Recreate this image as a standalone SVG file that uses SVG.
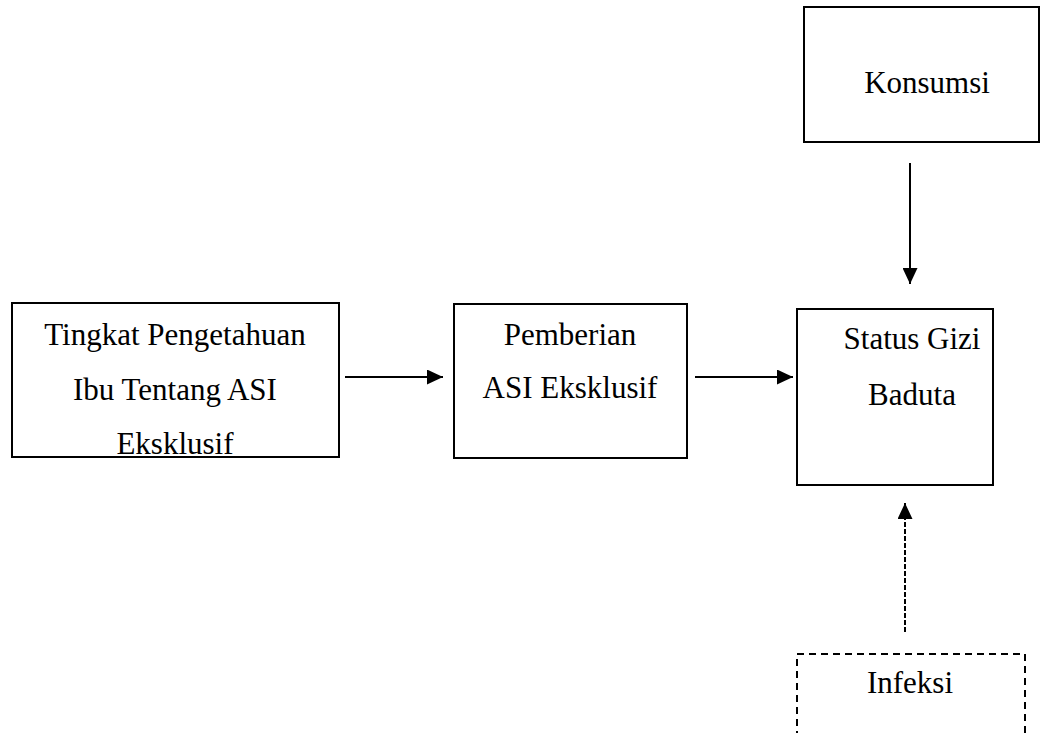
<svg xmlns="http://www.w3.org/2000/svg" width="1041" height="733" viewBox="0 0 1041 733">
  <style>
    .box { fill: #ffffff; stroke: #000000; stroke-width: 2; }
    .dbox { fill: #ffffff; stroke: #000000; stroke-width: 2; stroke-dasharray: 7 5; }
    .lbl { font-family: "Liberation Serif", "Times New Roman", serif; font-size: 31px; fill: #000000; text-anchor: middle; }
    .edge { stroke: #000000; stroke-width: 2; fill: none; }
    .dedge { stroke: #000000; stroke-width: 2; fill: none; stroke-dasharray: 5 2; }
  </style>
  <defs>
    <marker id="arrow" markerUnits="userSpaceOnUse" markerWidth="17" markerHeight="15" refX="16" refY="7.5" orient="auto">
      <path d="M0,0 L16,7.5 L0,15 Z" fill="#000000"/>
    </marker>
  </defs>
  <rect width="1041" height="733" fill="#ffffff"/>

  <g id="node-konsumsi">
    <rect class="box" x="804" y="7" width="235" height="135"/>
    <text class="lbl" x="927" y="93">Konsumsi</text>
  </g>

  <g id="node-pengetahuan">
    <rect class="box" x="12" y="303" width="327" height="154"/>
    <text class="lbl" x="175" y="345">Tingkat Pengetahuan</text>
    <text class="lbl" x="175" y="400">Ibu Tentang ASI</text>
    <text class="lbl" x="175" y="454">Eksklusif</text>
  </g>

  <g id="node-pemberian">
    <rect class="box" x="454" y="304" width="233" height="154"/>
    <text class="lbl" x="570" y="345">Pemberian</text>
    <text class="lbl" x="570" y="398">ASI Eksklusif</text>
  </g>

  <g id="node-status">
    <rect class="box" x="797" y="309" width="196" height="176"/>
    <text class="lbl" x="912" y="349">Status Gizi</text>
    <text class="lbl" x="912" y="405">Baduta</text>
  </g>

  <g id="node-infeksi">
    <rect class="dbox" x="797" y="654" width="228" height="90"/>
    <text class="lbl" x="910" y="693">Infeksi</text>
  </g>

  <g id="connectors">
    <line class="edge" x1="345" y1="377" x2="443" y2="377" marker-end="url(#arrow)"/>
    <line class="edge" x1="695" y1="377" x2="793" y2="377" marker-end="url(#arrow)"/>
    <line class="edge" x1="910" y1="163" x2="910" y2="284" marker-end="url(#arrow)"/>
    <line class="dedge" x1="905" y1="632" x2="905" y2="503" marker-end="url(#arrow)"/>
  </g>
</svg>
